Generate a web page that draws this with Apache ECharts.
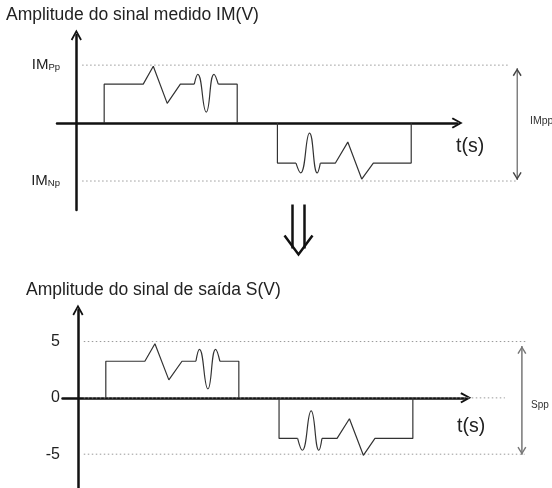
<!DOCTYPE html>
<html>
<head>
<meta charset="utf-8">
<script src="https://cdn.jsdelivr.net/npm/echarts@6/dist/echarts.min.js"></script>
<style>
  html, body { margin: 0; padding: 0; background: #fff; }
  #app { width: 552px; height: 488px; }
</style>
</head>
<body>
<div id="app"></div>
<script>
// positive pulse (time in s, amplitude in V) - top = IM, bottom = S
const posRampT = [0.72, 0.72, 1.73, 1.99, 2.35, 2.69, 3.05];
const posRampIM = [0, 3.36, 3.36, 4.9, 1.7, 3.36, 3.36];
const posRampS = [0, 3.25, 3.25, 4.8, 1.6, 3.25, 3.25];
const posWaveT = [3.05, 3.14, 3.36, 3.56, 3.67];
const posWaveIM = [3.36, 4.2, 0.95, 4.2, 3.36];
const posWaveS = [3.25, 4.3, 0.8, 4.3, 3.25];
const posTailT = [3.67, 4.16, 4.16];
const posTailIM = [3.36, 3.36, 0];
const posTailS = [3.25, 3.25, 0];

// negative pulse
const negHeadT = [5.2, 5.2, 5.68];
const negHeadIM = [0, -3.45, -3.45];
const negHeadS = [0, -3.6, -3.6];
const negWaveT = [5.68, 5.8, 6.03, 6.23, 6.31];
const negWaveIM = [-3.45, -4.3, -0.86, -4.3, -3.45];
const negWaveS = [-3.6, -4.65, -1.15, -4.65, -3.6];
const negRampT = [6.31, 6.7, 7.02, 7.38, 7.68, 8.66, 8.66];
const negRampIM = [-3.45, -3.45, -1.64, -4.83, -3.45, -3.45, 0];
const negRampS = [-3.6, -3.6, -1.85, -5.1, -3.6, -3.6, 0];

// reference levels
const imLevels = [5, -5];
const imLevelNames = ['Pp', 'Np'];
const imDotEnd = [11.2, 11.42];
const sTicks = [5, 0, -5];
const sDotEnd = [11.6, 11.04, 11.55];
const dotStart = 0.15;

// peak-to-peak arrows
const imppX = 11.4, imppRange = [4.74, -4.91];
const sppX = 11.48, sppRange = [4.6, -5.05];

const FONT = 'Liberation Sans, Arial, sans-serif';
const PX = 38.67; // px per second on both time axes
const chevron = 'path://M0,9 L5,0 L10,9 L8.6,10 L5,3.2 L1.4,10 Z';

const pts = (ts, vs) => ts.map((t, i) => [t, vs[i]]);

const chart = echarts.init(document.getElementById('app'));

function wave(data, grid, smooth) {
    return {
        type: 'line', xAxisIndex: grid, yAxisIndex: grid, data: data,
        showSymbol: false, smooth: smooth ? 0.5 : false, silent: true,
        lineStyle: { color: '#333', width: 1.2 }, z: 3
    };
}
function dotted(x0, x1, y, grid) {
    return {
        type: 'line', xAxisIndex: grid, yAxisIndex: grid, data: [[x0, y], [x1, y]],
        showSymbol: false, silent: true,
        lineStyle: { color: '#999', width: 1, type: [1.5, 2.5] }, z: 1
    };
}
function ppArrow(x, range, grid, color, width) {
    const head = (y, up) => ({
        value: [x, y], symbol: chevron, symbolSize: [9, 8],
        symbolRotate: up ? 0 : 180, symbolOffset: [0, up ? '50%' : '-50%']
    });
    return {
        type: 'line', xAxisIndex: grid, yAxisIndex: grid,
        data: [head(range[0], true), head(range[1], false)],
        showSymbol: true, silent: true,
        itemStyle: { color: color, borderWidth: 0 },
        lineStyle: { color: color, width: width }, z: 2
    };
}

const axisStyle = { color: '#111', width: 2.5 };

const series = [
    wave(pts(posRampT, posRampIM), 0), wave(pts(posWaveT, posWaveIM), 0, true), wave(pts(posTailT, posTailIM), 0),
    wave(pts(negHeadT, negHeadIM), 0), wave(pts(negWaveT, negWaveIM), 0, true), wave(pts(negRampT, negRampIM), 0),
    wave(pts(posRampT, posRampS), 2), wave(pts(posWaveT, posWaveS), 2, true), wave(pts(posTailT, posTailS), 2),
    wave(pts(negHeadT, negHeadS), 2), wave(pts(negWaveT, negWaveS), 2, true), wave(pts(negRampT, negRampS), 2),
    ppArrow(imppX, imppRange, 1, '#444', 1),
    ppArrow(sppX, sppRange, 3, '#777', 1.5)
];
imLevels.forEach((v, i) => series.push(dotted(dotStart, imDotEnd[i], v, 1)));
sTicks.forEach((v, i) => series.push(dotted(dotStart, sDotEnd[i], v, 3)));

const option = {
    animation: false,
    backgroundColor: '#fff',
    title: [
        { text: 'Amplitude do sinal medido IM(V)', left: 6, top: 6, padding: 0,
          textStyle: { fontFamily: FONT, fontSize: 17.5, fontWeight: 'normal', color: '#222' } },
        { text: 'Amplitude do sinal de saída S(V)', left: 26, top: 281, padding: 0,
          textStyle: { fontFamily: FONT, fontSize: 17.5, fontWeight: 'normal', color: '#222' } }
    ],
    grid: [
        { left: 57, top: 35, width: 10.35 * PX, height: 175 },
        { left: 57, top: 35, width: 495, height: 175 },
        { left: 62.5, top: 310, width: 10.43 * PX, height: 181.7 },
        { left: 62.5, top: 310, width: 489.5, height: 181.7 }
    ],
    xAxis: [
        { gridIndex: 0, type: 'value', min: -0.5, max: 9.85,
          axisLine: { onZero: true, lineStyle: axisStyle, symbol: ['none', chevron], symbolSize: [11, 12] },
          axisTick: { show: false }, axisLabel: { show: false }, splitLine: { show: false } },
        { gridIndex: 1, type: 'value', min: -0.5, max: -0.5 + 495 / PX, show: false },
        { gridIndex: 2, type: 'value', min: -0.4, max: 10.03,
          axisLine: { onZero: true, lineStyle: axisStyle, symbol: ['none', chevron], symbolSize: [11, 12] },
          axisTick: { show: false }, axisLabel: { show: false }, splitLine: { show: false } },
        { gridIndex: 3, type: 'value', min: -0.4, max: -0.4 + 489.5 / PX, show: false }
    ],
    yAxis: [
        { gridIndex: 0, type: 'value', min: -7.5, max: 7.6,
          axisLine: { show: true, onZero: true, lineStyle: axisStyle, symbol: ['none', chevron], symbolSize: [11, 12] },
          axisTick: { show: false }, splitLine: { show: false },
          axisLabel: {
              customValues: imLevels, margin: -3,
              formatter: v => '{a|IM}{b|' + imLevelNames[imLevels.indexOf(v)] + '}',
              rich: {
                  a: { fontFamily: FONT, fontSize: 15, color: '#222' },
                  b: { fontFamily: FONT, fontSize: 9.5, color: '#222', padding: [4, 0, 0, 0] }
              }
          } },
        { gridIndex: 1, type: 'value', min: -7.5, max: 7.6, show: false },
        { gridIndex: 2, type: 'value', min: -8, max: 7.8,
          axisLine: { show: true, onZero: true, lineStyle: axisStyle, symbol: ['none', chevron], symbolSize: [11, 12] },
          axisTick: { show: false }, splitLine: { show: false },
          axisLabel: { customValues: sTicks, margin: 2.5, fontFamily: FONT, fontSize: 16, color: '#222' } },
        { gridIndex: 3, type: 'value', min: -8, max: 7.8, show: false }
    ],
    graphic: [
        { type: 'text', left: 456, top: 137, style: { text: 't(s)', font: '19.5px ' + FONT, fill: '#222' } },
        { type: 'text', left: 457, top: 417, style: { text: 't(s)', font: '19.5px ' + FONT, fill: '#222' } },
        { type: 'text', left: 530, top: 116, style: { text: 'IMpp', font: '10.5px ' + FONT, fill: '#333' } },
        { type: 'text', left: 531, top: 400, style: { text: 'Spp', font: '10px ' + FONT, fill: '#333' } },
        { type: 'group', left: 282, top: 202, children: [
            { type: 'line', shape: { x1: 8, y1: 0, x2: 8, y2: 44 }, style: { stroke: '#111', lineWidth: 2.5 } },
            { type: 'line', shape: { x1: 20, y1: 0, x2: 20, y2: 44 }, style: { stroke: '#111', lineWidth: 2.5 } },
            { type: 'polyline', shape: { points: [[0, 31], [14, 50], [28, 31]] }, style: { stroke: '#111', lineWidth: 2.5, fill: null } }
        ] }
    ],
    series: series
};

chart.setOption(option);
</script>
</body>
</html>
